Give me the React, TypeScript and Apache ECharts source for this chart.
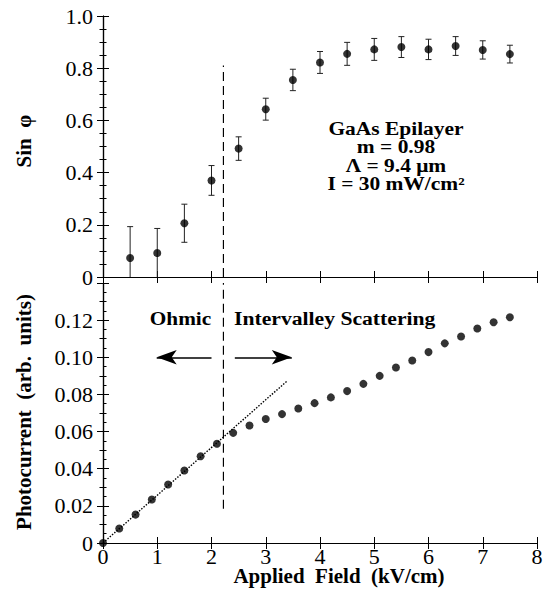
import React, { useEffect, useRef } from "react";
import * as echarts from "echarts";

// Sin φ versus applied field, with error bars
const sinField = [0.5, 1.0, 1.5, 2.0, 2.5, 3.0, 3.5, 4.0, 4.5, 5.0, 5.5, 6.0, 6.5, 7.0, 7.5];
const sinPhi = [0.073, 0.092, 0.206, 0.37, 0.492, 0.643, 0.755, 0.822, 0.855, 0.872, 0.881, 0.872, 0.885, 0.87, 0.854];
const sinErr = [0.12, 0.094, 0.073, 0.057, 0.045, 0.042, 0.041, 0.042, 0.044, 0.042, 0.04, 0.039, 0.036, 0.035, 0.034];

// Photocurrent versus applied field
const pcField = [0, 0.3, 0.6, 0.9, 1.2, 1.5, 1.8, 2.1, 2.4, 2.7, 3.0, 3.3, 3.6, 3.9, 4.2, 4.5, 4.8, 5.1, 5.4, 5.7, 6.0, 6.3, 6.6, 6.9, 7.2, 7.5];
const photocurrent = [0, 0.0078, 0.0153, 0.0234, 0.0315, 0.039, 0.0467, 0.0534, 0.0593, 0.0633, 0.0668, 0.0694, 0.0724, 0.0753, 0.0784, 0.0818, 0.0857, 0.09, 0.0945, 0.0983, 0.1028, 0.1075, 0.1112, 0.1155, 0.1189, 0.1216];

// Ohmic linear fit
const fitField = [0, 3.4];
const fitCurrent = [0, 0.0874];

// Ohmic / intervalley boundary
const boundaryField = 2.22;
const boundaryTop = [0, 0.81];
const boundaryBottom = [0.0185, 0.14];

// Region arrows
const arrowY = 0.1;
const leftArrow = [2.0, 0.99];
const rightArrow = [2.43, 3.48];

const xTicks = ["0", "1", "2", "3", "4", "5", "6", "7", "8"];

// Sample description
const sampleLines = ["GaAs Epilayer", "m = 0.98", "Λ = 9.4 μm", "I = 30 mW/cm²"];

const SERIF = "Liberation Serif";

export default function App() {
  const ref = useRef<HTMLDivElement>(null);

  useEffect(() => {
    if (!ref.current) return;
    const chart = echarts.init(ref.current, null, { renderer: "svg" });

    const axisLine = { show: true, lineStyle: { color: "#000", width: 1.2 } };
    const tickStyle = { color: "#000", width: 1 };

    const xBase = (gridIndex: number, position: "top" | "bottom", showLabels: boolean) => ({
      type: "value",
      gridIndex,
      position,
      min: 0,
      max: 8,
      interval: 1,
      axisLine,
      axisTick: { show: true, inside: true, length: 6, lineStyle: tickStyle },
      axisLabel: showLabels
        ? {
            show: true,
            fontFamily: SERIF,
            fontSize: 22,
            color: "#000",
            margin: 2,
            formatter: (v: number) => xTicks[Math.round(v)] ?? "",
          }
        : { show: false },
      splitLine: { show: false },
    });

    const yBase = (
      gridIndex: number,
      position: "left" | "right",
      max: number,
      interval: number,
      minorSplit: number,
      formatter: ((v: number) => string) | null
    ) => ({
      type: "value",
      gridIndex,
      position,
      min: 0,
      max,
      interval,
      axisLine,
      axisTick: { show: true, inside: true, length: 6, lineStyle: tickStyle },
      minorTick: { show: true, splitNumber: minorSplit, length: 3.5, lineStyle: tickStyle },
      axisLabel: formatter
        ? { show: true, fontFamily: SERIF, fontSize: 22, color: "#000", margin: 10, formatter }
        : { show: false },
      splitLine: { show: false },
      minorSplitLine: { show: false },
    });

    const topFmt = (v: number) => (v === 0 ? "0" : v.toFixed(1));
    const botFmt = (v: number) => (v === 0 ? "0" : Math.abs(v - 0.14) < 1e-9 ? "" : v.toFixed(2));

    const errData = sinField.map((x, i) => [x, sinPhi[i], sinErr[i]]);

    // Bold serif text, slightly widened like the typeset labels
    const boldText = (
      text: string,
      x: number,
      y: number,
      align: string,
      size: number,
      stretch: number,
      rotation = 0,
      lineHeight?: number
    ) => ({
      type: "text",
      x,
      y,
      rotation,
      scaleX: stretch,
      style: {
        text,
        fontFamily: SERIF,
        fontWeight: "bold",
        fontSize: size,
        lineHeight: lineHeight ?? size,
        fill: "#000",
        align,
        verticalAlign: "middle",
      },
    });

    const option: any = {
      animation: false,
      backgroundColor: "#fff",
      textStyle: { fontFamily: SERIF },
      grid: [
        { left: 103, top: 16, width: 434, height: 261 },
        { left: 103, top: 283, width: 434, height: 260 },
      ],
      xAxis: [
        xBase(0, "bottom", false),
        xBase(0, "top", false),
        xBase(1, "bottom", true),
        xBase(1, "top", false),
      ],
      yAxis: [
        yBase(0, "left", 1, 0.2, 4, topFmt),
        yBase(0, "right", 1, 0.2, 4, null),
        yBase(1, "left", 0.14, 0.02, 4, botFmt),
        yBase(1, "right", 0.14, 0.02, 2, null),
      ],
      series: [
        {
          type: "custom",
          xAxisIndex: 0,
          yAxisIndex: 0,
          clip: true,
          data: errData,
          encode: { x: 0, y: 1 },
          renderItem: (params: any, api: any) => {
            const x = api.value(0);
            const y = api.value(1);
            const e = api.value(2);
            const lo = Math.max(0, y - e);
            const pTop = api.coord([x, y + e]);
            const pBot = api.coord([x, lo]);
            const cap = 3;
            const style = { stroke: "#222", lineWidth: 1 };
            const children: any[] = [
              { type: "line", shape: { x1: pTop[0], y1: pTop[1], x2: pBot[0], y2: pBot[1] }, style },
              { type: "line", shape: { x1: pTop[0] - cap, y1: pTop[1], x2: pTop[0] + cap, y2: pTop[1] }, style },
            ];
            if (y - e > 0) {
              children.push({ type: "line", shape: { x1: pBot[0] - cap, y1: pBot[1], x2: pBot[0] + cap, y2: pBot[1] }, style });
            }
            return { type: "group", children };
          },
          z: 2,
        },
        {
          type: "scatter",
          xAxisIndex: 0,
          yAxisIndex: 0,
          data: sinField.map((x, i) => [x, sinPhi[i]]),
          symbol: "circle",
          symbolSize: 8,
          itemStyle: { color: "#000" },
          clip: false,
          z: 3,
        },
        {
          type: "line",
          xAxisIndex: 0,
          yAxisIndex: 0,
          data: boundaryTop.map((v) => [boundaryField, v]),
          symbol: "none",
          lineStyle: { color: "#000", width: 1.2, type: [9, 5] },
          silent: true,
        },
        {
          type: "line",
          xAxisIndex: 2,
          yAxisIndex: 2,
          data: boundaryBottom.map((v) => [boundaryField, v]),
          symbol: "none",
          lineStyle: { color: "#000", width: 1.2, type: [9, 5] },
          silent: true,
        },
        {
          type: "line",
          xAxisIndex: 2,
          yAxisIndex: 2,
          data: fitField.map((x, i) => [x, fitCurrent[i]]),
          symbol: "none",
          lineStyle: { color: "#000", width: 1.4, type: [1.5, 1.5] },
          silent: true,
          markLine: {
            silent: true,
            symbol: ["none", "arrow"],
            symbolSize: [11, 20],
            label: { show: false },
            lineStyle: { color: "#000", width: 1.5, type: "solid" },
            data: [
              [{ coord: [leftArrow[0], arrowY] }, { coord: [leftArrow[1], arrowY] }],
              [{ coord: [rightArrow[0], arrowY] }, { coord: [rightArrow[1], arrowY] }],
            ],
          },
        },
        {
          type: "scatter",
          xAxisIndex: 2,
          yAxisIndex: 2,
          data: pcField.map((x, i) => [x, photocurrent[i]]),
          symbol: "circle",
          symbolSize: 8,
          itemStyle: { color: "#000" },
          clip: false,
          z: 3,
        },
      ],
      graphic: [
        boldText("Sin  φ", 24, 141, "center", 20, 1.05, Math.PI / 2),
        boldText("Photocurrent  (arb.  units)", 24, 412, "center", 20, 1.05, Math.PI / 2),
        boldText("Applied  Field  (kV/cm)", 339, 576, "center", 20, 1.05, 0, 18),
        boldText(sampleLines.join("\n"), 396, 156, "center", 18.5, 1.16, 0, 18.5),
        boldText("Ohmic", 180.5, 318, "center", 19, 1.12),
        boldText("Intervalley Scattering", 234, 318, "left", 19, 1.14),
      ],
    };

    chart.setOption(option);
    return () => chart.dispose();
  }, []);

  return (
    <div
      ref={ref}
      style={{ position: "fixed", left: 0, top: 0, width: 550, height: 593, background: "#fff" }}
    />
  );
}
